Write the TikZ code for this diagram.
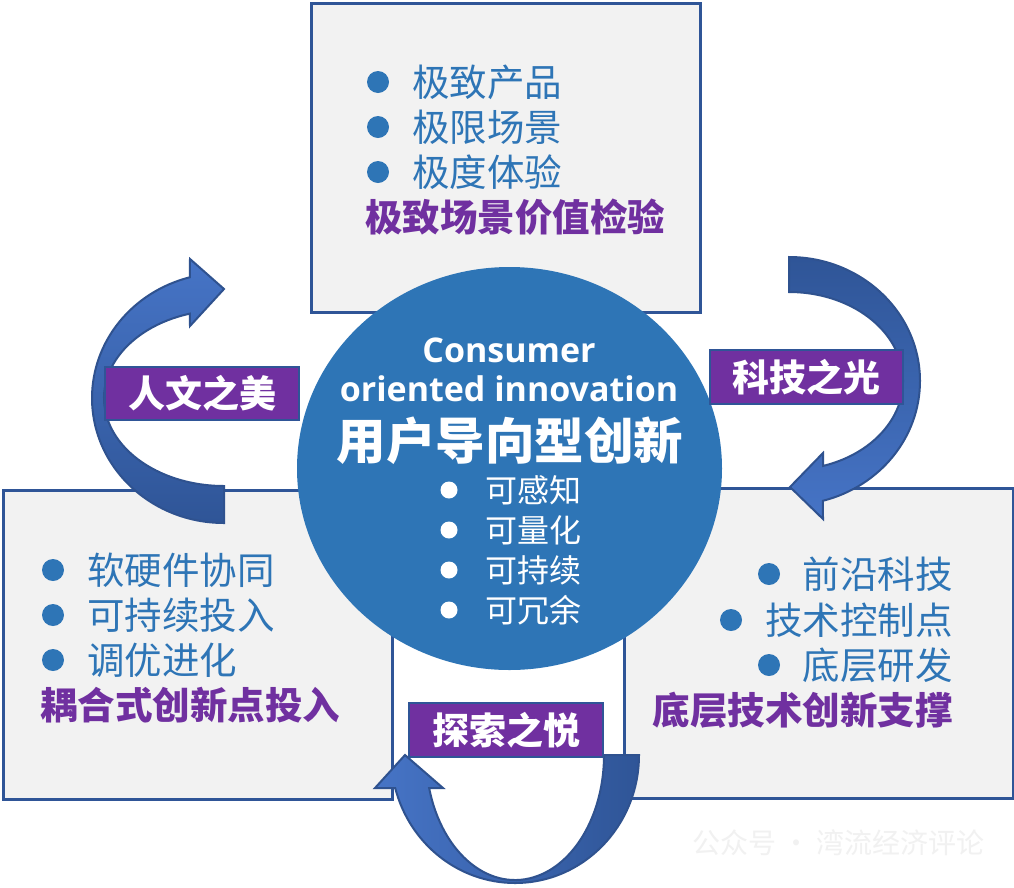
\documentclass[tikz,border=0pt]{standalone}
\usepackage{fontspec}
\setmainfont{Noto Sans CJK SC}
\newfontfamily\enfont{Open Sans}
\usetikzlibrary{shapes.geometric,calc}
\definecolor{boxfill}{HTML}{F2F2F2}
\definecolor{boxline}{HTML}{2F5597}
\definecolor{circ}{HTML}{2E75B6}
\definecolor{txtblue}{HTML}{2E75B6}
\definecolor{purp}{HTML}{7030A0}
\definecolor{arrlight}{HTML}{4674C6}
\definecolor{arrdark}{HTML}{2F5597}
\definecolor{arrline}{HTML}{2F528F}
\definecolor{wmark}{HTML}{F1F1F1}
\begin{document}
\begin{tikzpicture}[x=1pt,y=-1pt,
  panel/.style={draw=boxline, line width=3.2pt, fill=boxfill, rectangle, anchor=north west, inner sep=0pt},
  dot/.style={circle, fill=txtblue, minimum size=22pt, inner sep=0pt},
  wdot/.style={circle, fill=white, minimum size=17pt, inner sep=0pt},
  item/.style={text=txtblue, font=\fontsize{37.5}{40}\selectfont, inner sep=0pt, anchor=base west},
  ritem/.style={item, anchor=base east},
  keyline/.style={text=purp, font=\bfseries\fontsize{37.5}{40}\selectfont, inner sep=0pt, anchor=base west},
  rkeyline/.style={keyline, anchor=base east},
  citem/.style={text=white, font=\fontsize{32}{34}\selectfont, inner sep=0pt, anchor=base west},
  entext/.style={text=white, font=\enfont\bfseries\fontsize{34}{36}\selectfont, inner sep=0pt, anchor=base},
  tag/.style={draw=boxline, line width=2pt, fill=purp, text=white, font=\bfseries\fontsize{37}{40}\selectfont, minimum width=194pt, minimum height=54pt, inner sep=0pt},
  arrowband/.style={draw=arrline, line width=2pt, line join=miter}
]
\useasboundingbox (0,0) rectangle (1014,887);
\fill[white] (0,0) rectangle (1014,887);

% panels
\node[panel, minimum width=389pt, minimum height=309pt] (topbox) at (310,2) {};
\node[panel, minimum width=389pt, minimum height=309pt] (leftbox) at (2,489) {};
\node[panel, minimum width=389pt, minimum height=310pt] (rightbox) at (623,487) {};

% central disc
\node[ellipse, fill=circ, minimum width=425pt, minimum height=403pt, inner sep=0pt] (core) at (509.5,468.5) {};
\node[entext] (en1) at (509,362) {Consumer};
\node[entext] (en2) at (509,401) {oriented innovation};
\node[text=white, font=\bfseries\fontsize{49.5}{52}\selectfont, anchor=base, inner sep=0pt] (cn) at (510,459) {用户导向型创新};
\node[wdot] (cb1) at (449,490) {};
\node[wdot] (cb2) at (449,530) {};
\node[wdot] (cb3) at (449,570) {};
\node[wdot] (cb4) at (449,610) {};
\node[citem] (c1) at (485,502) {可感知};
\node[citem] (c2) at (485,542) {可量化};
\node[citem] (c3) at (485,582) {可持续};
\node[citem] (c4) at (485,622) {可冗余};

% curved arrows
\coordinate (la) at (224,398);
\draw[arrowband, top color=arrlight, bottom color=arrdark]
  ($(la)+(90:132 and 125)$) arc[start angle=90, end angle=255, x radius=132, y radius=125]
  -- (190,259) -- (224,289) -- (190,326)
  -- ($(la)+(253.5:120 and 88)$) arc[start angle=253.5, end angle=90, x radius=120, y radius=88] -- cycle;

\coordinate (ra) at (789,381);
\draw[arrowband, top color=arrdark, bottom color=arrlight]
  ($(ra)+(-90:131 and 124)$) arc[start angle=-90, end angle=75, x radius=131, y radius=124]
  -- (823,519) -- (790,487) -- (823,453)
  -- ($(ra)+(72.6:114 and 89)$) arc[start angle=72.6, end angle=-90, x radius=114, y radius=89] -- cycle;

\coordinate (ba) at (515,755);
\draw[arrowband, left color=arrlight, right color=arrdark]
  ($(ba)+(0:124 and 128)$) arc[start angle=0, end angle=165.06, x radius=124, y radius=128]
  -- (375,788) -- (405,755) -- (443,788)
  -- ($(ba)+(164.69:89 and 125)$) arc[start angle=164.69, end angle=0, x radius=89, y radius=125] -- cycle;

% labels
\node[tag, minimum height=53pt] (t1) at (202,393.5) {人文之美};
\node[tag, minimum width=193pt] (t2) at (806.5,377) {科技之光};
\node[tag] (t3) at (506,730) {探索之悦};

% top panel text
\node[dot] (tb1) at (378,82) {};
\node[dot] (tb2) at (378,127) {};
\node[dot] (tb3) at (378,172) {};
\node[item] (ti1) at (412,96) {极致产品};
\node[item] (ti2) at (412,141) {极限场景};
\node[item] (ti3) at (412,186) {极度体验};
\node[keyline] (tk) at (365,231) {极致场景价值检验};

% left panel text
\node[dot] (lb1) at (53,570) {};
\node[dot] (lb2) at (53,615) {};
\node[dot] (lb3) at (53,660) {};
\node[item] (li1) at (87,584) {软硬件协同};
\node[item] (li2) at (87,629) {可持续投入};
\node[item] (li3) at (87,674) {调优进化};
\node[keyline] (lk) at (40,719) {耦合式创新点投入};

% right panel text
\node[dot] (rb1) at (769,574) {};
\node[dot] (rb2) at (731,620) {};
\node[dot] (rb3) at (769,665) {};
\node[ritem] (ri1) at (953,588) {前沿科技};
\node[ritem] (ri2) at (953,634) {技术控制点};
\node[ritem] (ri3) at (953,679) {底层研发};
\node[rkeyline] (rk) at (953,724) {底层技术创新支撑};

% watermark
\node[text=wmark, font=\fontsize{28}{30}\selectfont, anchor=west, inner sep=0pt] (wm) at (692,843) {公众号 · 湾流经济评论};
\end{tikzpicture}
\end{document}
